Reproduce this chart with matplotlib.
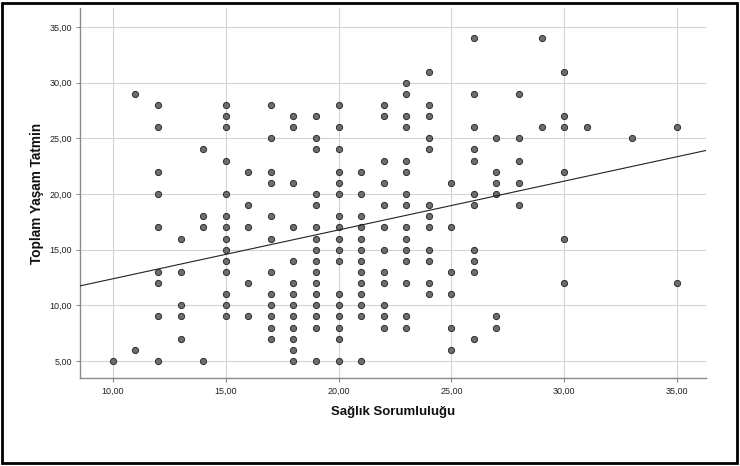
import matplotlib
matplotlib.use("Agg")
import matplotlib.pyplot as plt
from matplotlib.patches import Rectangle
import numpy as np

plt.rcParams['font.family'] = ['Liberation Sans', 'DejaVu Sans']

# Saglik Sorumlulugu values (x) and the Toplam Yasam Tatmin values (y) observed at each
col_x = [10, 11, 12, 13, 14, 15, 16, 17, 18, 19, 20, 21, 22, 23, 24, 25, 26, 27, 28, 29, 30, 31, 33, 35]
col_y = [
    [5],
    [29, 6],
    [28, 26, 22, 20, 17, 13, 12, 9, 5],
    [16, 13, 10, 9, 7],
    [24, 18, 17, 5],
    [28, 27, 26, 23, 20, 18, 17, 16, 15, 14, 13, 11, 10, 9],
    [22, 19, 17, 12, 9],
    [28, 25, 22, 21, 18, 16, 13, 11, 10, 9, 8, 7],
    [27, 26, 21, 17, 14, 12, 11, 10, 9, 8, 7, 6, 5],
    [27, 25, 24, 20, 19, 17, 16, 15, 14, 13, 12, 11, 10, 9, 8, 5],
    [28, 26, 24, 22, 21, 20, 18, 17, 16, 15, 14, 11, 10, 9, 8, 7, 5],
    [22, 20, 18, 17, 16, 15, 14, 13, 12, 11, 10, 9, 5],
    [28, 27, 23, 21, 19, 17, 15, 13, 12, 10, 9, 8],
    [30, 29, 27, 26, 23, 22, 20, 19, 17, 16, 15, 14, 12, 9, 8],
    [31, 28, 27, 25, 24, 19, 18, 17, 15, 14, 12, 11],
    [21, 17, 13, 11, 8, 6],
    [34, 29, 26, 24, 23, 20, 19, 15, 14, 13, 7],
    [25, 22, 21, 20, 9, 8],
    [29, 25, 23, 21, 19],
    [34, 26],
    [31, 27, 26, 22, 16, 12],
    [26],
    [25],
    [26, 12],
]
# fit line (overlapping duplicate points are hidden)
fit_intercept = 8.0
fit_slope = 0.4385
x_ticks = [10, 15, 20, 25, 30, 35]
y_ticks = [5, 10, 15, 20, 25, 30, 35]

xs = np.array([x for x, ys in zip(col_x, col_y) for _ in ys], dtype=float)
ys = np.array([y for yy in col_y for y in yy], dtype=float)

W, H = 740, 466
fig = plt.figure(figsize=(W / 100, H / 100), dpi=100)
ax = fig.add_axes([80 / W, 1 - 378 / H, (706 - 80) / W, (378 - 8) / H])

xlim = (8.54, 36.29)
ylim = (3.47, 36.71)
ax.set_xlim(*xlim)
ax.set_ylim(*ylim)

ax.set_xticks(x_ticks)
ax.set_yticks(y_ticks)
ax.set_xticklabels([f"{v:.2f}".replace('.', ',') for v in x_ticks], fontsize=6.5)
ax.set_yticklabels([f"{v:.2f}".replace('.', ',') for v in y_ticks], fontsize=6.5)
ax.grid(True, color='#d4d4d4', linewidth=0.8, zorder=0)
ax.set_axisbelow(True)
ax.tick_params(length=3, width=0.8, color='#8a8a8a', pad=3, labelcolor='#222222')

for s in ['top', 'right']:
    ax.spines[s].set_visible(False)
for s in ['left', 'bottom']:
    ax.spines[s].set_color('#8a8a8a')
    ax.spines[s].set_linewidth(1.0)

ax.scatter(xs, ys, s=20, facecolor='#6e6e6e', edgecolor='#2e2e2e', linewidths=0.7, zorder=3)

lx = np.array(xlim)
ax.plot(lx, fit_intercept + fit_slope * lx, color='#222222', linewidth=0.8, zorder=4)

ax.set_xlabel('Sağlık Sorumluluğu', fontsize=9.5, fontweight='bold', labelpad=7.5, color='#111111')
ax.set_ylabel('Toplam Yaşam Tatmin', fontsize=9.8, fontweight='bold', labelpad=3.5, color='#111111')

fig.patches.append(Rectangle((2 / W, 3 / H), 735 / W, 460 / H, transform=fig.transFigure,
                             fill=False, edgecolor='black', linewidth=2))

fig.savefig('out.png', dpi=100)
